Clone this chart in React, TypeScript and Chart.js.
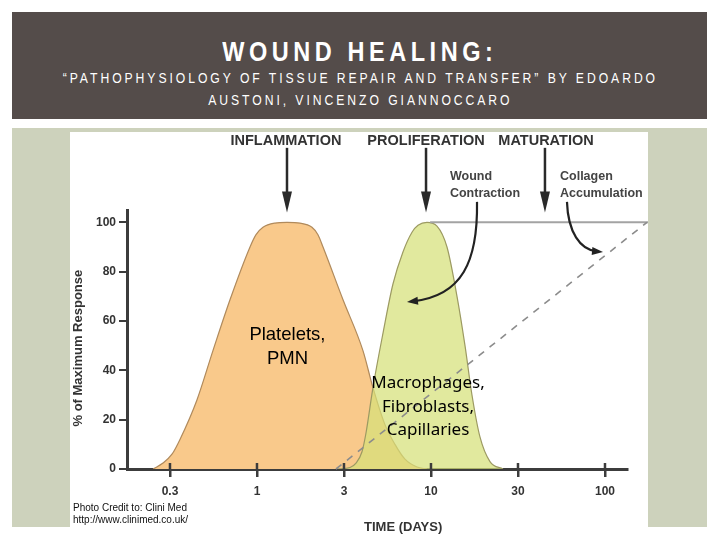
import React, { useEffect, useRef } from "react";
import { Chart, registerables } from "chart.js";

Chart.register(...registerables);

// x values are in tick-index units: 0 = 0.3 d, 1 = 1 d, 2 = 3 d, 3 = 10 d, 4 = 30 d, 5 = 100 d
const dayTickLabels = ["0.3", "1", "3", "10", "30", "100"];
const dayTickIndex = [0, 1, 2, 3, 4, 5];
const responseTicks = [0, 20, 40, 60, 80, 100];

const plateletsX = [-0.195, -0.08, 0.023, 0.115, 0.31, 0.494, 0.69, 0.92, 0.989, 1.069, 1.207, 1.345, 1.494, 1.632, 1.701, 1.759, 1.989, 2.218, 2.333, 2.471, 2.586, 2.701, 2.839, 2.954];
const plateletsY = [0, 2.4, 6, 12, 28, 48, 68.6, 90, 95, 98, 99.7, 100, 99.7, 98, 95, 90, 68.6, 48, 33, 18, 10, 4, 0.8, 0];

const macrophagesX = [1.92, 2.069, 2.138, 2.207, 2.253, 2.333, 2.448, 2.563, 2.678, 2.782, 2.851, 2.954, 3.069, 3.184, 3.299, 3.391, 3.471, 3.563, 3.678, 3.828];
const macrophagesY = [0, 0.6, 2.4, 7, 14.6, 33, 55, 75, 88, 96, 98.8, 100, 98.5, 90, 70, 50, 30, 13, 3, 0];

const collagenX = [1.908, 5.483];
const collagenY = [0, 100];

const maxLineX = [2.99, 5.5];
const maxLineY = [100, 100];

const phaseLabels = ["INFLAMMATION", "PROLIFERATION", "MATURATION"];
const phaseLabelX = [1.333, 2.943, 4.322];
const phaseArrowX = [1.345, 2.943, 4.31];
const phaseLabelY = 133.1;
const phaseArrowTop = 130.2;
const phaseArrowTip = 104.0;

const noteLines = [["Wound", "Contraction"], ["Collagen", "Accumulation"]];
const noteX = [3.218, 4.483];
const noteLineY = [118.5, 111.6];

const woundArrow = [[3.529, 108.3], [3.54, 84.0], [3.356, 70.2], [2.724, 67.7]];
const collagenArrow = [[4.563, 108.3], [4.575, 96.1], [4.713, 88.8], [4.977, 88.0]];

const plateletLabel = ["Platelets,", "PMN"];
const plateletLabelX = 1.35;
const plateletLabelY = [54.2, 44.6];
const macroLabel = ["Macrophages,", "Fibroblasts,", "Capillaries"];
const macroLabelX = 2.966;
const macroLabelY = [34.9, 25.2, 15.8];

const xTitle = "TIME (DAYS)";
const xTitleX = 2.68;
const yTitle = "% of Maximum Response";
const yTitleY = 49;

const SANS = "'Liberation Sans', Arial, sans-serif";
const AXIS = "#3c3c3c";
const INK = "#333333";

const toPoints = (xs: number[], ys: number[]) => xs.map((x, i) => ({ x, y: ys[i] }));

function arrowHead(ctx: CanvasRenderingContext2D, tx: number, ty: number, ang: number, len: number, w: number) {
  const bx = tx - len * Math.cos(ang);
  const by = ty - len * Math.sin(ang);
  ctx.beginPath();
  ctx.moveTo(tx, ty);
  ctx.lineTo(bx + (w / 2) * Math.sin(ang), by - (w / 2) * Math.cos(ang));
  ctx.lineTo(bx - (w / 2) * Math.sin(ang), by + (w / 2) * Math.cos(ang));
  ctx.closePath();
  ctx.fill();
}

const annotationPlugin = {
  id: "woundAnnotations",
  afterDraw(chart: any) {
    const ctx: CanvasRenderingContext2D = chart.ctx;
    const xs = chart.scales.x;
    const ys = chart.scales.y;
    const px = (v: number) => xs.getPixelForValue(v);
    const py = (v: number) => ys.getPixelForValue(v);
    const area = chart.chartArea;
    ctx.save();

    // tick stubs above the x axis
    ctx.strokeStyle = AXIS;
    ctx.lineWidth = 2.5;
    dayTickIndex.forEach((v) => {
      ctx.beginPath();
      ctx.moveTo(px(v), area.bottom);
      ctx.lineTo(px(v), area.bottom - 6);
      ctx.stroke();
    });

    // phase labels and arrows
    ctx.fillStyle = INK;
    ctx.textAlign = "center";
    ctx.textBaseline = "middle";
    ctx.font = `bold 14.5px ${SANS}`;
    phaseLabels.forEach((t, i) => ctx.fillText(t, px(phaseLabelX[i]), py(phaseLabelY)));
    ctx.strokeStyle = "#2a2a2a";
    ctx.fillStyle = "#2a2a2a";
    ctx.lineWidth = 2.5;
    phaseArrowX.forEach((v) => {
      const x = px(v);
      const tip = py(phaseArrowTip);
      ctx.beginPath();
      ctx.moveTo(x, py(phaseArrowTop));
      ctx.lineTo(x, tip - 12);
      ctx.stroke();
      arrowHead(ctx, x, tip, Math.PI / 2, 21, 10);
    });

    // notes
    ctx.fillStyle = "#444";
    ctx.textAlign = "left";
    ctx.font = `bold 12.5px ${SANS}`;
    noteLines.forEach((lines, i) => {
      lines.forEach((t, j) => ctx.fillText(t, px(noteX[i]), py(noteLineY[j])));
    });

    // curved arrows
    [woundArrow, collagenArrow].forEach((pts) => {
      const p = pts.map(([a, b]) => [px(a), py(b)]);
      ctx.strokeStyle = "#222";
      ctx.fillStyle = "#222";
      ctx.lineWidth = 2.2;
      const ang = Math.atan2(p[3][1] - p[2][1], p[3][0] - p[2][0]);
      const endX = p[3][0] - 6 * Math.cos(ang);
      const endY = p[3][1] - 6 * Math.sin(ang);
      ctx.beginPath();
      ctx.moveTo(p[0][0], p[0][1]);
      ctx.bezierCurveTo(p[1][0], p[1][1], p[2][0], p[2][1], endX, endY);
      ctx.stroke();
      arrowHead(ctx, p[3][0], p[3][1], ang, 11, 8);
    });

    // cell labels
    ctx.fillStyle = "#000";
    ctx.textAlign = "center";
    ctx.font = `18.5px ${SANS}`;
    plateletLabel.forEach((t, i) => ctx.fillText(t, px(plateletLabelX), py(plateletLabelY[i])));
    ctx.font = `17px 'Noto Sans', ${SANS}`;
    macroLabel.forEach((t, i) => ctx.fillText(t, px(macroLabelX), py(macroLabelY[i])));

    // axis titles
    ctx.fillStyle = INK;
    ctx.font = `bold 13px ${SANS}`;
    ctx.fillText(xTitle, px(xTitleX), area.bottom + 58);
    ctx.save();
    ctx.translate(area.left - 49, py(yTitleY));
    ctx.rotate(-Math.PI / 2);
    ctx.fillText(yTitle, 0, 0);
    ctx.restore();

    ctx.restore();
  },
};

export default function App() {
  const ref = useRef<HTMLCanvasElement>(null);

  useEffect(() => {
    const chart = new Chart(ref.current as HTMLCanvasElement, {
      type: "line",
      data: {
        datasets: [
          {
            data: toPoints(collagenX, collagenY),
            borderColor: "#8c8c8c",
            borderWidth: 1.6,
            borderDash: [7, 7],
            fill: false,
            pointRadius: 0,
            clip: false as any,
            order: 1,
          },
          {
            data: toPoints(maxLineX, maxLineY),
            borderColor: "#a3a3a3",
            borderWidth: 2,
            fill: false,
            pointRadius: 0,
            clip: false as any,
            order: 1,
          },
          {
            data: toPoints(macrophagesX, macrophagesY),
            borderColor: "#9c9a62",
            borderWidth: 1.2,
            backgroundColor: "rgba(214,224,120,0.72)",
            fill: "origin",
            pointRadius: 0,
            cubicInterpolationMode: "monotone",
            order: 2,
          },
          {
            data: toPoints(plateletsX, plateletsY),
            borderColor: "#b08a5c",
            borderWidth: 1.2,
            backgroundColor: "#f9c98b",
            fill: "origin",
            pointRadius: 0,
            cubicInterpolationMode: "monotone",
            order: 3,
          },
        ],
      },
      options: {
        responsive: false,
        animation: false,
        layout: { padding: { top: 78, right: 21, left: 0, bottom: 0 } },
        plugins: {
          legend: { display: false },
          tooltip: { enabled: false },
          title: { display: false },
        },
        scales: {
          x: {
            type: "linear",
            min: -0.494,
            max: 5.253,
            z: 1,
            afterBuildTicks: (s: any) => {
              s.ticks = dayTickIndex.map((v) => ({ value: v }));
            },
            afterFit: (s: any) => {
              s.height = 66;
            },
            ticks: {
              callback: (_v: any, i: number) => dayTickLabels[i],
              font: { family: SANS, size: 12, weight: "bold" },
              color: INK,
              padding: 7,
              maxRotation: 0,
              autoSkip: false,
            },
            grid: { drawOnChartArea: false, drawTicks: true, tickLength: 8, lineWidth: 2.5, color: AXIS },
            border: { display: true, width: 3, color: AXIS },
          },
          y: {
            type: "linear",
            min: 0,
            max: 105,
            z: 1,
            afterBuildTicks: (s: any) => {
              s.ticks = responseTicks.map((v) => ({ value: v }));
            },
            afterFit: (s: any) => {
              s.width = 57;
            },
            ticks: {
              font: { family: SANS, size: 12, weight: "bold" },
              color: INK,
              padding: 3,
            },
            grid: { drawOnChartArea: false, drawTicks: true, tickLength: 8, lineWidth: 2, color: AXIS },
            border: { display: true, width: 3, color: AXIS },
          },
        },
      } as any,
      plugins: [annotationPlugin],
    });
    return () => chart.destroy();
  }, []);

  const headerLine: React.CSSProperties = {
    position: "absolute",
    left: 0,
    width: 720,
    textAlign: "center",
    color: "#fff",
    fontFamily: SANS,
  };
  const squeeze: React.CSSProperties = {
    display: "inline-block",
    transform: "scaleX(0.84)",
    transformOrigin: "center",
    whiteSpace: "nowrap",
  };

  return (
    <div style={{ position: "absolute", left: 0, top: 0, width: 720, height: 540, overflow: "hidden", background: "#fff" }}>
      <div style={{ position: "absolute", left: 12, top: 12, width: 695, height: 107, background: "#544c4a" }} />
      <div style={{ ...headerLine, top: 37, fontSize: 28, lineHeight: "30px", fontWeight: "bold" }}>
        <span style={{ ...squeeze, letterSpacing: 5.4 }}>WOUND HEALING:</span>
      </div>
      <div style={{ ...headerLine, top: 67, fontSize: 14.5, lineHeight: "22px" }}>
        <span style={{ ...squeeze, letterSpacing: 3.5 }}>
          “PATHOPHYSIOLOGY OF TISSUE REPAIR AND TRANSFER” BY EDOARDO
          <br />
          AUSTONI, VINCENZO GIANNOCCARO
        </span>
      </div>
      <div style={{ position: "absolute", left: 12, top: 128, width: 695, height: 399, background: "#cdd2bc" }} />
      <canvas
        ref={ref}
        width={578}
        height={403}
        style={{ position: "absolute", left: 70, top: 132, width: 578, height: 403, background: "#fff" }}
      />
      <div
        style={{
          position: "absolute",
          left: 73,
          top: 502,
          fontFamily: SANS,
          fontSize: 10,
          lineHeight: "12px",
          color: "#111",
        }}
      >
        Photo Credit to: Clini Med
        <br />
        http://www.clinimed.co.uk/
      </div>
    </div>
  );
}
